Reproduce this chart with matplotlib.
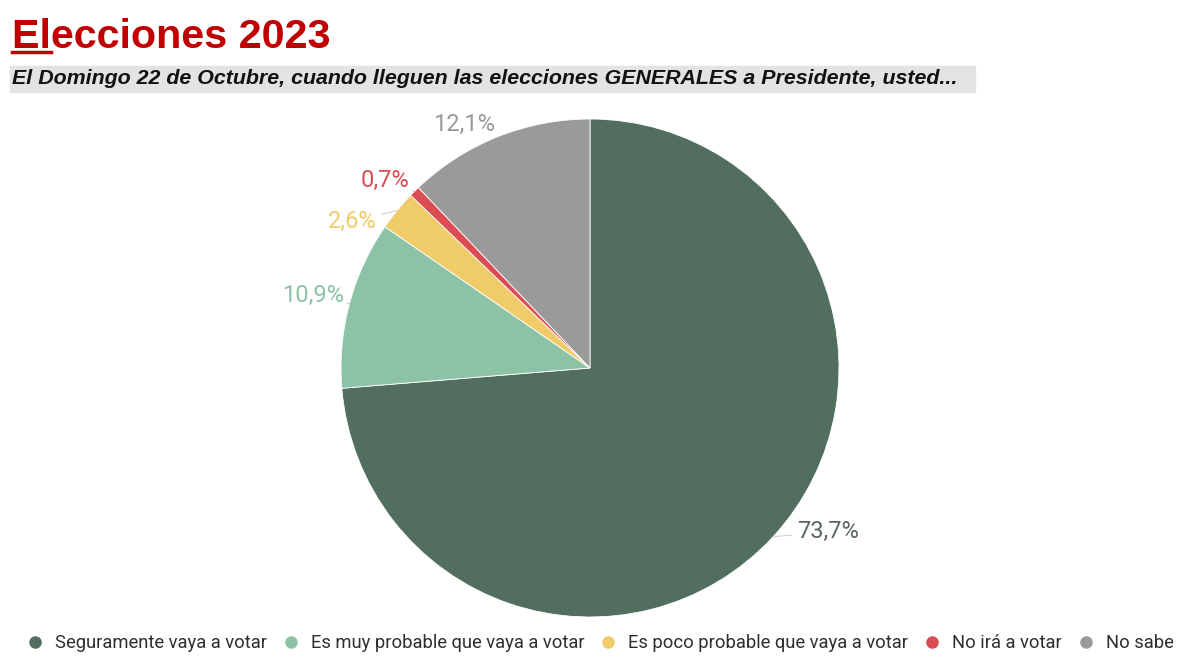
import matplotlib

matplotlib.use("Agg")
import matplotlib.pyplot as plt
import numpy as np
from matplotlib.lines import Line2D
from matplotlib.patches import Rectangle

TITLE = "Elecciones 2023"
SUBTITLE = ("El Domingo 22 de Octubre, cuando lleguen las elecciones "
            "GENERALES a Presidente, usted...")

CATEGORIES = [
    "Seguramente vaya a votar",
    "Es muy probable que vaya a votar",
    "Es poco probable que vaya a votar",
    "No irá a votar",
    "No sabe",
]
VALUES = [73.7, 10.9, 2.6, 0.7, 12.1]
LABELS = ["73,7%", "10,9%", "2,6%", "0,7%", "12,1%"]
COLORS = ["#516e5e", "#8cc3a6", "#f0cb6a", "#dc4d53", "#9a9a9a"]
LABEL_COLORS = ["#5b6660", "#8cc3a6", "#f0cb6a", "#dc4d53", "#9a9a9a"]

# posicion de las etiquetas: (radio, ajuste de angulo en grados)
LABEL_POS = [(1.06, 4.3), (1.03, -1.5), (1.04, 4.9), (1.045, -0.9), (1.05, -0.4)]

fig = plt.figure(figsize=(12, 6.72), dpi=100)

# --- cabecera -------------------------------------------------------------
fig.text(12 / 1200, 1 - 48 / 672, TITLE, color="#c00000", fontsize=29.7,
         fontweight="bold", family="Liberation Sans", va="baseline")
# subrayado de "El"
fig.add_artist(Line2D([12 / 1200, 51 / 1200], [1 - 52 / 672, 1 - 52 / 672],
                      color="#c00000", linewidth=2.5))
fig.add_artist(Rectangle((10 / 1200, 1 - 92 / 672), 965 / 1200, 26 / 672,
                         color="#e3e3e3", zorder=0))
fig.text(12 / 1200, 1 - 79 / 672, SUBTITLE, color="#111111", fontsize=15.4,
         fontweight="bold", fontstyle="italic", family="Liberation Sans",
         va="center")

# --- tarta ----------------------------------------------------------------
R_PX = 249
ax = fig.add_axes([(590 - 250) / 1200, (672 - 368 - 250) / 672,
                   500 / 1200, 500 / 672])

wedges, _ = ax.pie(VALUES, colors=COLORS, startangle=90, counterclock=False,
                   radius=1.0, wedgeprops=dict(edgecolor="white", linewidth=0.6))
lim = 250 / R_PX
ax.set_xlim(-lim, lim)
ax.set_ylim(-lim, lim)
ax.set_aspect("equal")
ax.axis("off")

for w, lab, col, (r, da) in zip(wedges, LABELS, LABEL_COLORS, LABEL_POS):
    mid = np.deg2rad((w.theta1 + w.theta2) / 2)
    ang = np.deg2rad((w.theta1 + w.theta2) / 2 + da)
    x0, y0 = np.cos(mid), np.sin(mid)
    x1, y1 = r * np.cos(ang), r * np.sin(ang)
    ha = "left" if x1 > 0 else "right"
    ax.annotate(lab, xy=(x0, y0), xytext=(x1, y1), ha=ha, va="center",
                fontsize=17, color=col, family="Roboto", annotation_clip=False,
                arrowprops=dict(arrowstyle="-", color="#d0d0d0", lw=0.8,
                                shrinkA=2, shrinkB=0))

# --- leyenda --------------------------------------------------------------
handles = [Line2D([], [], marker="o", linestyle="", markersize=8,
                  markerfacecolor=c, markeredgecolor=c) for c in COLORS]
fig.legend(handles, CATEGORIES, loc="center", bbox_to_anchor=(0.496, 1 - 643 / 672),
           ncol=5, frameon=False, handletextpad=0.1, columnspacing=0.3,
           prop=dict(family="Roboto", size=13.2), labelcolor="#2e2e2e")

fig.savefig("out.png", dpi=100, facecolor="white")
